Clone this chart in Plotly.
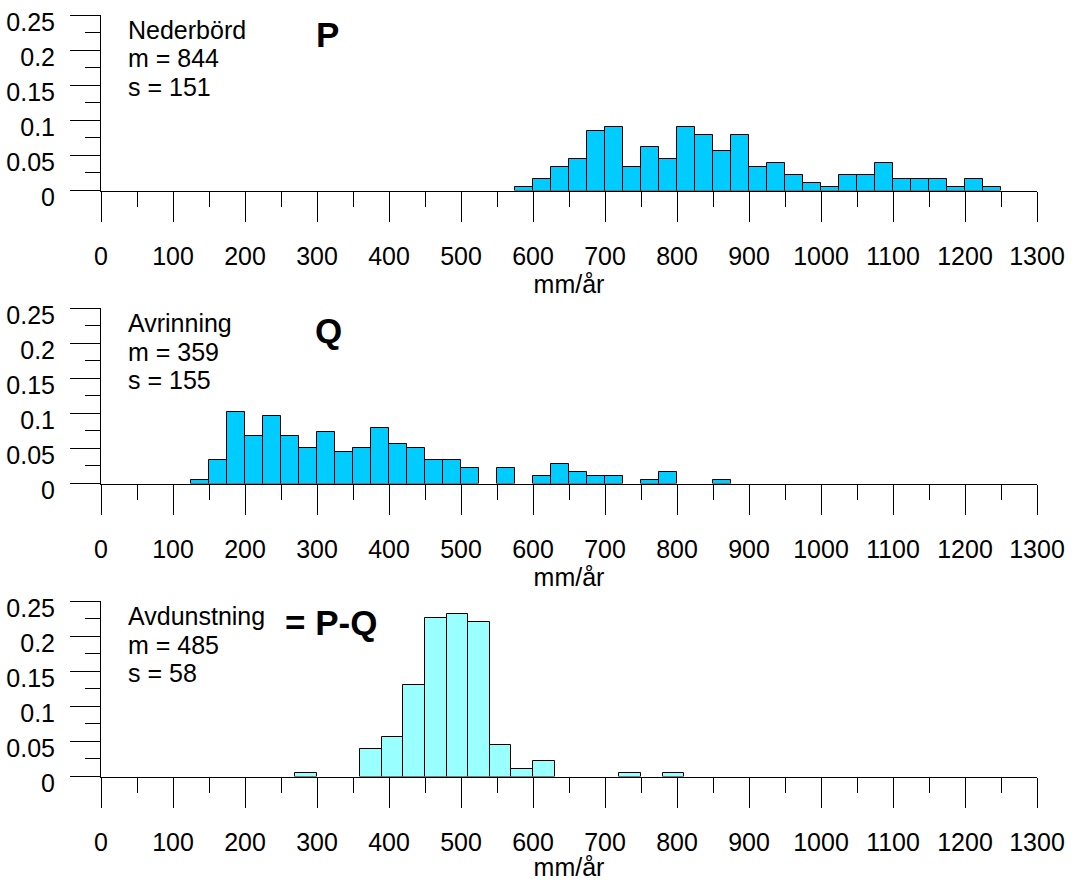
import plotly.graph_objects as go

# ---------------- data (relative frequency per bin) ----------
P_bin_start = [575, 600, 625, 650, 675, 700, 725, 750, 775, 800, 825, 850, 875, 900,
               925, 950, 975, 1000, 1025, 1050, 1075, 1100, 1125, 1150, 1175, 1200, 1225]
P_freq = [0.0056, 0.0169, 0.0339, 0.0452, 0.0847, 0.0904, 0.0339, 0.0621, 0.0452,
          0.0904, 0.0791, 0.0565, 0.0791, 0.0339, 0.0395, 0.0226, 0.0113, 0.0056,
          0.0226, 0.0226, 0.0395, 0.0169, 0.0169, 0.0169, 0.0056, 0.0169, 0.0056]
P_bin_width = 25

Q_bin_start = [125, 150, 175, 200, 225, 250, 275, 300, 325, 350, 375, 400, 425, 450,
               475, 500, 525, 550, 575, 600, 625, 650, 675, 700, 725, 750, 775, 800,
               825, 850]
Q_freq = [0.0056, 0.0339, 0.1017, 0.0678, 0.0960, 0.0678, 0.0508, 0.0734, 0.0452,
          0.0508, 0.0791, 0.0565, 0.0508, 0.0339, 0.0339, 0.0226, 0, 0.0226, 0,
          0.0113, 0.0282, 0.0169, 0.0113, 0.0113, 0, 0.0056, 0.0169, 0, 0, 0.0056]
Q_bin_width = 25

E_bin_start = [270, 300, 330, 360, 390, 420, 450, 480, 510, 540, 570, 600, 630, 660,
               690, 720, 750, 780]
E_freq = [0.0056, 0, 0, 0.0395, 0.0565, 0.1299, 0.2260, 0.2316, 0.2203, 0.0452,
          0.0113, 0.0226, 0, 0, 0, 0.0056, 0, 0.0056]
E_bin_width = 30

panel_names = ["Nederbörd", "Avrinning", "Avdunstning"]
panel_means = [844, 359, 485]
panel_sds = [151, 155, 58]
panel_tags = ["P", "Q", "= P-Q"]
x_title = "mm/år"

# ---------------- styling ----------------
W, H = 1072, 881
FONT = "Arial, Liberation Sans, sans-serif"
FS = 25
COL_PQ = "#00CCFF"
COL_E = "#99FFFF"

x_dom = [101 / W, 1037 / W]
panel_px = [(15, 190.5), (308, 483.5), (601, 776.5)]
tag_px = [(314, 19), (313, 22), (283, 21)]

fig = go.Figure()
series = [(P_bin_start, P_freq, P_bin_width, COL_PQ),
          (Q_bin_start, Q_freq, Q_bin_width, COL_PQ),
          (E_bin_start, E_freq, E_bin_width, COL_E)]

for i, (xs, ys, w, col) in enumerate(series):
    keep = [(x, y) for x, y in zip(xs, ys) if y > 0]
    fig.add_trace(go.Bar(
        x=[k[0] for k in keep], y=[k[1] for k in keep],
        width=w, offset=0,
        marker=dict(color=col, line=dict(color="black", width=1)),
        xaxis="x" if i == 0 else f"x{i+1}",
        yaxis="y" if i == 0 else f"y{i+1}",
        showlegend=False, hoverinfo="skip"))

layout = dict(
    width=W, height=H, autosize=False,
    margin=dict(l=0, r=0, t=0, b=0, pad=0, autoexpand=False),
    paper_bgcolor="white", plot_bgcolor="white",
    font=dict(family=FONT, size=FS, color="black"),
    bargap=0, showlegend=False,
)

annotations = []
for i in range(3):
    top, base = panel_px[i]
    xa = "xaxis" if i == 0 else f"xaxis{i+1}"
    ya = "yaxis" if i == 0 else f"yaxis{i+1}"
    layout[xa] = dict(
        domain=x_dom, anchor="y" if i == 0 else f"y{i+1}",
        range=[0, 1300], tick0=0, dtick=100,
        showline=True, linecolor="black", linewidth=1,
        ticks="outside", ticklen=30, tickwidth=1, tickcolor="black",
        minor=dict(dtick=50, tick0=0, ticks="outside", ticklen=15,
                   tickwidth=1, tickcolor="black", showgrid=False),
        showgrid=False, zeroline=False, automargin=False,
        ticklabelstandoff=13,
        tickfont=dict(family=FONT, size=FS, color="black"),
        title=dict(text=x_title, standoff=4,
                   font=dict(family=FONT, size=FS, color="black")),
        fixedrange=True,
    )
    layout[ya] = dict(
        domain=[1 - base / H, 1 - top / H],
        anchor="x" if i == 0 else f"x{i+1}",
        range=[0, 0.25], tick0=0, dtick=0.05,
        showline=True, linecolor="black", linewidth=1,
        ticks="outside", ticklen=30, tickwidth=1, tickcolor="black",
        minor=dict(dtick=0.025, tick0=0, ticks="outside", ticklen=15,
                   tickwidth=1, tickcolor="black", showgrid=False),
        showgrid=False, zeroline=False, automargin=False,
        ticklabelstandoff=10, ticklabelshift=7,
        tickfont=dict(family=FONT, size=FS, color="black"),
        fixedrange=True,
    )
    lines = [panel_names[i], f"m = {panel_means[i]}", f"s = {panel_sds[i]}"]
    for j, t in enumerate(lines):
        annotations.append(dict(
            text=t, xref="paper", yref="paper",
            x=126 / W, y=1 - (top + 15 + 28.5 * j) / H,
            xanchor="left", yanchor="middle", showarrow=False,
            font=dict(family=FONT, size=FS, color="black")))
    tx, ty = tag_px[i]
    annotations.append(dict(
        text=f"<b>{panel_tags[i]}</b>", xref="paper", yref="paper",
        x=tx / W, y=1 - (top + ty) / H,
        xanchor="left", yanchor="middle", showarrow=False,
        font=dict(family=FONT, size=35, color="black")))

layout["annotations"] = annotations
fig.update_layout(**layout)
fig.write_html("out.html", config={"responsive": False})
